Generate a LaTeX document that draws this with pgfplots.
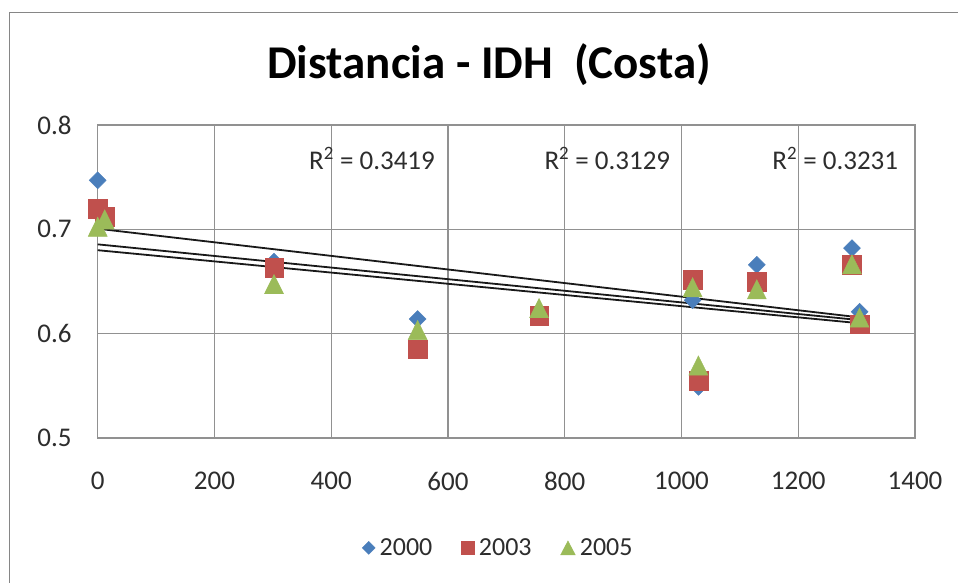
\documentclass[border=0pt]{standalone}
\usepackage{pgfplots}
\pgfplotsset{compat=1.18}
\usepackage{fontspec}
\setmainfont{Carlito}

\definecolor{s2000}{RGB}{74,126,187}
\definecolor{s2003}{RGB}{192,80,77}
\definecolor{s2005}{RGB}{155,187,89}
\definecolor{gridgray}{RGB}{145,145,145}
\definecolor{framegray}{RGB}{134,134,134}
\definecolor{labelgray}{RGB}{45,45,45}

\newcommand{\ticksize}{\fontsize{27}{32}\selectfont}

% legend image: a single mark centred on the cell
\pgfplotsset{dotlegend/.style={legend image code/.code={\draw[##1] plot coordinates {(0pt,0pt)};}}}

\begin{document}
\begin{tikzpicture}[x=1pt,y=1pt]
\path[use as bounding box] (0,0) rectangle (958,583);
\fill[white] (0,0) rectangle (958,583);
\draw[framegray, line width=1.8pt] (9.5,-3) -- (9.5,570.5) -- (961,570.5);
\node[font=\bfseries\fontsize{47}{56}\selectfont, anchor=base] at (489,504.7) {Distancia - IDH\ \ (Costa)};

\begin{axis}[
  at={(97.7pt,145pt)}, anchor=south west,
  scale only axis, width=817.3pt, height=313pt,
  xmin=0, xmax=1400, ymin=0.5, ymax=0.8,
  xtick={0,200,...,1400}, ytick={0.5,0.6,0.7,0.8},
  grid=major,
  grid style={gridgray, line width=1.3pt},
  axis line style={gridgray, line width=1.3pt},
  major tick length=0pt,
  clip=false,
  /pgf/number format/assume math mode=true,
  /pgf/number format/1000 sep={},
  yticklabel style={/pgf/number format/fixed, /pgf/number format/fixed zerofill,
    /pgf/number format/precision=1, anchor=east, inner sep=0pt, xshift=-26pt},
  xticklabel style={anchor=center, inner sep=0pt, yshift=-43pt},
  tick label style={font=\ticksize, text=labelgray},
  legend style={at={(0.489,-0.351)}, anchor=center, draw=none, fill=none,
    legend columns=3, font=\fontsize{26}{31}\selectfont, text=labelgray,
    nodes={inner sep=0pt},
    /tikz/every odd column/.append style={column sep=4.5pt},
    /tikz/every even column/.append style={column sep=29pt}},
]

% 2000
\addplot[only marks, mark=square*, mark size=6pt,
  mark options={rotate=45, fill=s2000, draw=s2000}, forget plot] table {
x y
0 0.747
12 0.712
302 0.669
548 0.614
756 0.621
1019 0.632
1029 0.549
1129 0.666
1292 0.682
1305 0.621
};

% 2003
\addplot[only marks, mark=square*, mark size=9.3pt,
  mark options={fill=s2003, draw=s2003}, forget plot] table {
x y
0 0.720
12 0.712
302 0.663
548 0.585
756 0.617
1019 0.652
1029 0.555
1129 0.650
1292 0.666
1305 0.609
};

% 2005
\addplot[only marks, mark=triangle*, mark size=11pt,
  mark options={yscale=1.17, yshift=-3.2pt, fill=s2005, draw=s2005}, forget plot] table {
x y
0 0.703
12 0.710
302 0.648
548 0.604
756 0.625
1019 0.645
1029 0.570
1129 0.643
1292 0.667
1305 0.616
};

% linear trend lines
\addplot[black!90, line width=1.8pt, forget plot] coordinates {(0,0.7006) (1305,0.6156)};
\addplot[black!90, line width=1.8pt, forget plot] coordinates {(0,0.6856) (1305,0.6130)};
\addplot[black!90, line width=1.8pt, forget plot] coordinates {(0,0.6800) (1305,0.6100)};

\node[anchor=base west, font=\ticksize, text=labelgray, inner sep=0pt] at (axis cs:362,0.7578) {R\textsuperscript{2} = 0.3419};
\node[anchor=base west, font=\ticksize, text=labelgray, inner sep=0pt] at (axis cs:765,0.7578) {R\textsuperscript{2} = 0.3129};
\node[anchor=base west, font=\ticksize, text=labelgray, inner sep=0pt] at (axis cs:1155.5,0.7578) {R\textsuperscript{2} = 0.3231};

% legend
\addlegendimage{only marks, mark=square*, mark size=4.6pt,
  mark options={rotate=45, fill=s2000, draw=s2000}, dotlegend}
\addlegendentry{2000}
\addlegendimage{only marks, mark=square*, mark size=6.5pt,
  mark options={fill=s2003, draw=s2003}, dotlegend}
\addlegendentry{2003}
\addlegendimage{only marks, mark=triangle*, mark size=8.5pt,
  mark options={yscale=1.1, yshift=-2.2pt, fill=s2005, draw=s2005}, dotlegend}
\addlegendentry{2005}
\end{axis}
\end{tikzpicture}
\end{document}
